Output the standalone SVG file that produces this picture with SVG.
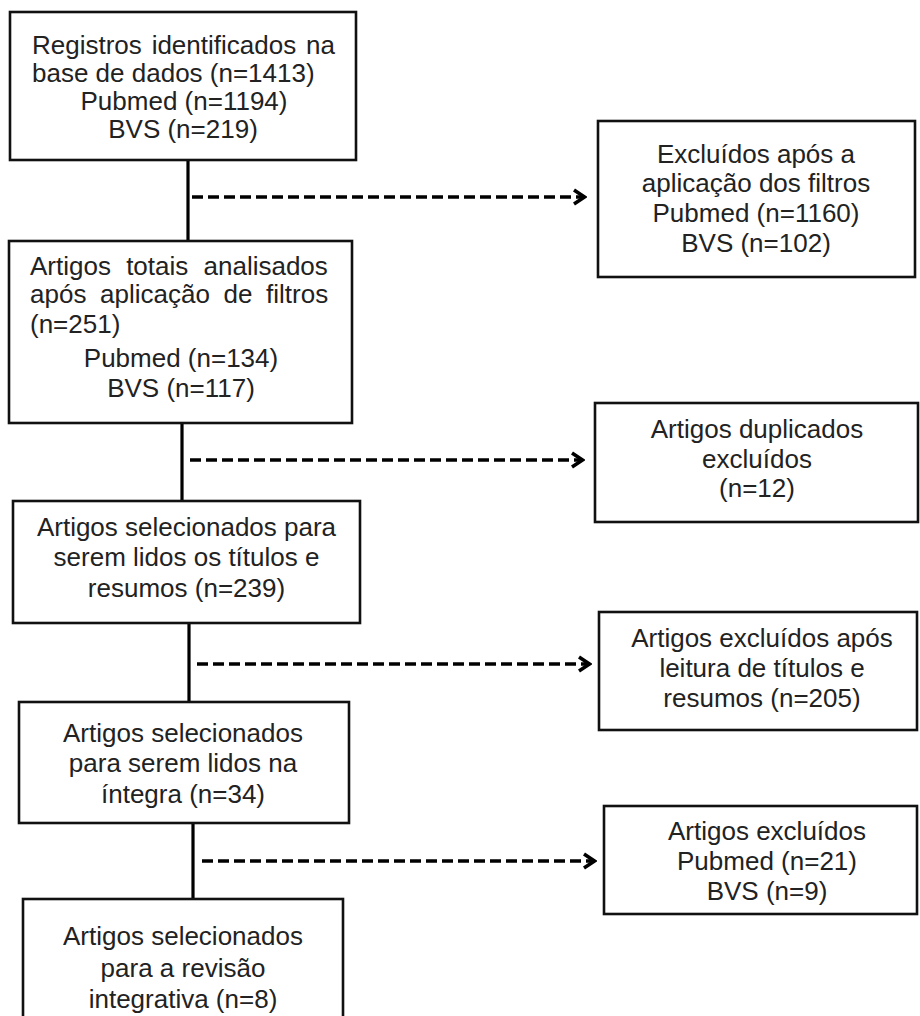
<svg xmlns="http://www.w3.org/2000/svg" width="920" height="1016" viewBox="0 0 920 1016">
<style>
.box{fill:#fff;stroke:#111;stroke-width:2.6}
.t{font-family:"Liberation Sans",Arial,sans-serif;font-size:26px;fill:#222}
.m{text-anchor:middle}
.solid{stroke:#000;stroke-width:3.2;fill:none}
.dash{stroke:#000;stroke-width:3.4;fill:none;stroke-dasharray:11 5}
</style>
<defs>
<marker id="arr" viewBox="0 0 16 20" refX="14" refY="10" markerWidth="16" markerHeight="20" orient="auto" markerUnits="userSpaceOnUse">
<path d="M3,3 L13.5,10 L3,17" fill="none" stroke="#000" stroke-width="3.6" stroke-linejoin="miter"/>
</marker>
</defs>
<rect width="920" height="1016" fill="#fff"/>
<g id="connectors">
<line class="solid" x1="188" y1="160" x2="188" y2="241"/>
<line class="dash" x1="192" y1="197" x2="585" y2="197" marker-end="url(#arr)"/>
<line class="solid" x1="182" y1="423" x2="182" y2="501"/>
<line class="dash" x1="190" y1="460" x2="583" y2="460" marker-end="url(#arr)"/>
<line class="solid" x1="189" y1="623" x2="189" y2="702"/>
<line class="dash" x1="197" y1="664" x2="590" y2="664" marker-end="url(#arr)"/>
<line class="solid" x1="193" y1="823" x2="193" y2="899"/>
<line class="dash" x1="202" y1="861" x2="595" y2="861" marker-end="url(#arr)"/>
</g>
<g id="n1">
<rect class="box" x="10" y="12" width="346" height="148"/>
<text class="t" x="32" y="54" word-spacing="2.6">Registros identificados na</text>
<text class="t" x="32" y="82">base de dados (n=1413)</text>
<text class="t m" x="184" y="110">Pubmed (n=1194)</text>
<text class="t m" x="183" y="138">BVS (n=219)</text>
</g>
<g id="n2">
<rect class="box" x="9" y="241" width="343" height="182"/>
<text class="t" x="30" y="275" word-spacing="8">Artigos totais analisados</text>
<text class="t" x="30" y="303" word-spacing="6.4">após aplicação de filtros</text>
<text class="t" x="30" y="333">(n=251)</text>
<text class="t m" x="181" y="367">Pubmed (n=134)</text>
<text class="t m" x="181" y="397">BVS (n=117)</text>
</g>
<g id="n3">
<rect class="box" x="13" y="501" width="347" height="122"/>
<text class="t m" x="186.5" y="536">Artigos selecionados para</text>
<text class="t m" x="186.5" y="566">serem lidos os títulos e</text>
<text class="t m" x="186.5" y="597">resumos (n=239)</text>
</g>
<g id="n4">
<rect class="box" x="19" y="702" width="330" height="121"/>
<text class="t m" x="183" y="742">Artigos selecionados</text>
<text class="t m" x="183" y="772">para serem lidos na</text>
<text class="t m" x="183" y="803">íntegra (n=34)</text>
</g>
<g id="n5">
<rect class="box" x="23" y="899" width="320" height="130"/>
<text class="t m" x="183" y="945">Artigos selecionados</text>
<text class="t m" x="183" y="977">para a revisão</text>
<text class="t m" x="183" y="1008">integrativa (n=8)</text>
</g>
<g id="r1">
<rect class="box" x="598" y="121" width="317" height="156"/>
<text class="t m" x="756" y="163">Excluídos após a</text>
<text class="t m" x="756" y="192">aplicação dos filtros</text>
<text class="t m" x="756" y="222">Pubmed (n=1160)</text>
<text class="t m" x="756" y="252">BVS (n=102)</text>
</g>
<g id="r2">
<rect class="box" x="595" y="403" width="323" height="119"/>
<text class="t m" x="757" y="438">Artigos duplicados</text>
<text class="t m" x="757" y="468">excluídos</text>
<text class="t m" x="757" y="497">(n=12)</text>
</g>
<g id="r3">
<rect class="box" x="599" y="612" width="318" height="118"/>
<text class="t m" x="762" y="647">Artigos excluídos após</text>
<text class="t m" x="762" y="677">leitura de títulos e</text>
<text class="t m" x="762" y="707">resumos (n=205)</text>
</g>
<g id="r4">
<rect class="box" x="604" y="806" width="313" height="108"/>
<text class="t m" x="767" y="840">Artigos excluídos</text>
<text class="t m" x="767" y="870">Pubmed (n=21)</text>
<text class="t m" x="767" y="900">BVS (n=9)</text>
</g>
</svg>
